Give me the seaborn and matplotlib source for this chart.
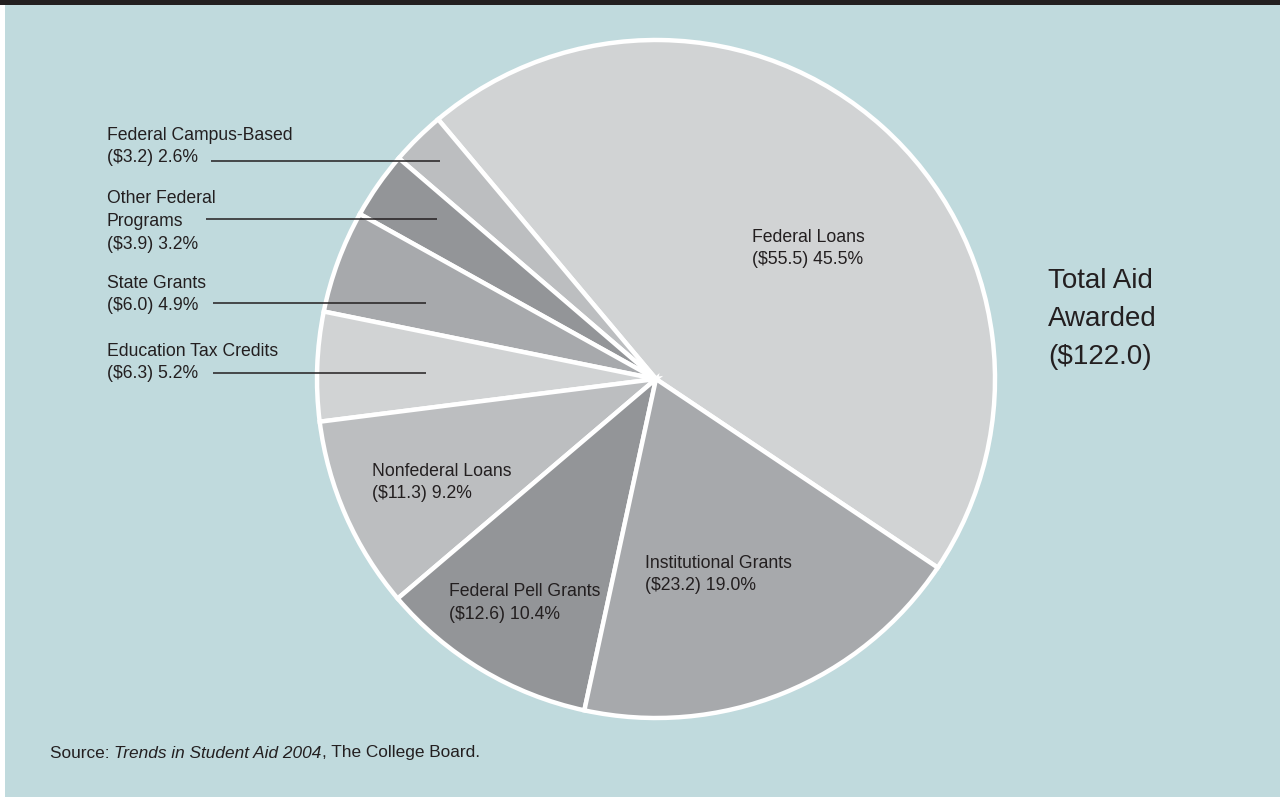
import matplotlib
matplotlib.use("Agg")
import matplotlib.pyplot as plt
import seaborn as sns
from matplotlib.patches import Rectangle

# ---- data ----
categories = ["Federal Loans", "Federal Campus-Based", "Other Federal\nPrograms",
              "State Grants", "Education Tax Credits", "Nonfederal Loans",
              "Federal Pell Grants", "Institutional Grants"]
amounts = [55.5, 3.2, 3.9, 6.0, 6.3, 11.3, 12.6, 23.2]
percents = [45.5, 2.6, 3.2, 4.9, 5.2, 9.2, 10.4, 19.0]
total_amount = 122.0
slice_colors = ["#d1d3d4", "#bcbec0", "#939598", "#a7a9ac",
                "#d1d3d4", "#bcbec0", "#939598", "#a7a9ac"]

sns.set_theme(style="white")
plt.rcParams["font.family"] = ["Liberation Sans", "DejaVu Sans"]

TXT = "#231f20"
BG = "#c0dadd"

fig = plt.figure(figsize=(12.8, 7.97), dpi=100)
fig.patch.set_facecolor("white")
fig.patches.append(Rectangle((5 / 1280, 0), 1 - 5 / 1280, 1, transform=fig.transFigure,
                             facecolor=BG, edgecolor="none", zorder=-10))
fig.patches.append(Rectangle((0, 1 - 5 / 797), 1, 5 / 797, transform=fig.transFigure,
                             facecolor="#231f20", edgecolor="none", zorder=-9))

ax = fig.add_axes([0, 0, 1, 1])
ax.patch.set_alpha(0)
ax.pie(percents, colors=slice_colors, startangle=33.8, counterclock=False,
       center=(656, 379), radius=339,
       wedgeprops=dict(edgecolor="white", linewidth=3.2))
ax.set_xlim(0, 1280)
ax.set_ylim(797, 0)
ax.set_aspect("auto")
ax.axis("off")

labels = [f"{c}\n(${a:.1f}) {p:.1f}%" for c, a, p in zip(categories, amounts, percents)]
label_pos = [(752, 248.5), (107, 146.5), (107, 221.5), (107, 294.5), (107, 362.5),
             (372, 482.5), (449, 603), (645, 574.5)]
for lab, (x, y) in zip(labels, label_pos):
    ax.text(x, y, lab, ha="left", va="center", fontsize=12.7, color=TXT, linespacing=1.45)

leaders = [(211, 440, 161), (206, 437, 219), (213, 426, 303), (213, 426, 373)]
for x0, x1, y in leaders:
    ax.plot([x0, x1], [y, y], color=TXT, lw=1.1, solid_capstyle="butt")

ax.text(1048, 319, f"Total Aid\nAwarded\n(${total_amount:.1f})", ha="left", va="center",
        fontsize=20, color=TXT, linespacing=1.6)

t1 = ax.text(50, 753, "Source: ", ha="left", va="center", fontsize=12.4, color=TXT)
t2 = ax.annotate("Trends in Student Aid 2004", xy=(1, 0), xycoords=t1, ha="left", va="bottom",
                 fontsize=12.4, color=TXT, style="italic")
t3 = ax.annotate(", The College Board.", xy=(1, 0), xycoords=t2, ha="left", va="bottom",
                 fontsize=12.4, color=TXT)

fig.savefig("out.png", dpi=100, facecolor=fig.get_facecolor())
